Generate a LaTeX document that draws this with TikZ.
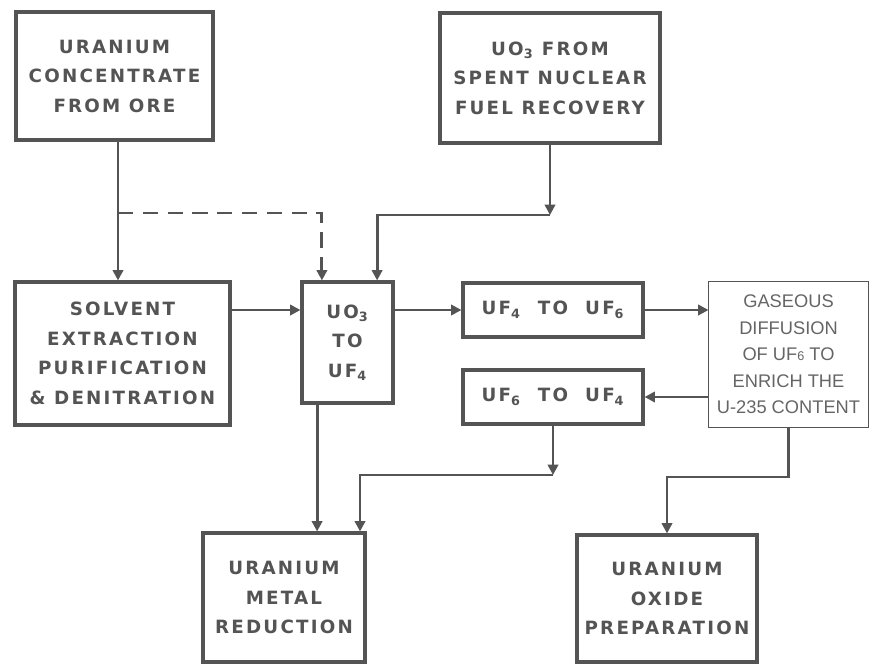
\documentclass[tikz,border=0pt]{standalone}
\usepackage{fontspec}
\newfontfamily\stencilfont[LetterSpace=12]{DejaVu Sans}
\newfontfamily\plainfont{Liberation Sans}
\usepackage{tikz}
\usetikzlibrary{arrows.meta}
\definecolor{ink}{gray}{0.33}

\begin{document}
\begin{tikzpicture}[x=0.025cm, y=-0.025cm,
  stage/.style={draw=ink, line width=2.2pt, rectangle, align=center, text=ink,
    font=\stencilfont\bfseries\fontsize{13}{21}\selectfont},
  plainstage/.style={draw=ink, line width=0.7pt, rectangle, align=center, text=ink!90,
    font=\plainfont\fontsize{13}{18.8}\selectfont},
  flow/.style={draw=ink, line width=2pt, -{Triangle[length=2.6mm,width=2.6mm]}}]
\useasboundingbox (0,0) rectangle (874,665);

% Feed boxes
\node[stage, minimum width=4.925cm, minimum height=3.2cm] (ore) at (114.5,76) {URANIUM\\CONCENTRATE\\FROM ORE};
\node[stage, minimum width=5.5cm, minimum height=3.25cm] (spent) at (550,78) {UO\textsubscript{3} FROM\\SPENT NUCLEAR\\FUEL RECOVERY};

% Middle row
\node[stage, minimum width=5.375cm, minimum height=3.575cm] (solvent) at (122.5,353.5) {SOLVENT\\EXTRACTION\\PURIFICATION\\\& DENITRATION};
\node[stage, minimum width=2.275cm, minimum height=3.025cm] (conv) at (347.5,342.5) {UO\textsubscript{3}\\TO\\UF\textsubscript{4}};
\node[stage, minimum width=4.5cm, minimum height=1.35cm] (uf4uf6) at (553,310) {UF\textsubscript{4}\ \ TO\ \ UF\textsubscript{6}};
\node[stage, minimum width=4.5cm, minimum height=1.35cm] (uf6uf4) at (553,397) {UF\textsubscript{6}\ \ TO\ \ UF\textsubscript{4}};
\node[plainstage, minimum width=3.975cm, minimum height=3.625cm] (diffusion) at (788.5,354.5) {GASEOUS\\DIFFUSION\\OF UF{\small 6} TO\\ENRICH THE\\U-235 CONTENT};

% Products
\node[stage, minimum width=4.05cm, minimum height=3.225cm] (metal) at (284,597.5) {URANIUM\\METAL\\REDUCTION};
\node[stage, minimum width=4.5cm, minimum height=3.175cm] (oxide) at (667,598.5) {URANIUM\\OXIDE\\PREPARATION};

% Junctions
\coordinate (j1) at (118,213);
\coordinate (j2) at (550,215);
\coordinate (j3) at (553,475);
\coordinate (j4) at (720,477);

% Arrows
\draw[flow] (ore.south -| j1) -- (j1 |- solvent.north);
\draw[flow, dash pattern=on 3.8mm off 2.4mm] (j1) -| ([xshift=-0.64cm]conv.north);
\draw[flow] (spent) -- (j2);
\draw[flow] (j2) -| ([xshift=0.74cm]conv.north);
\draw[flow] (solvent.east |- uf4uf6) -- (conv.west |- uf4uf6);
\draw[flow] (conv.east |- uf4uf6) -- (uf4uf6.west);
\draw[flow] (uf4uf6.east) -- (diffusion.west |- uf4uf6);
\draw[flow] (diffusion.west |- uf6uf4) -- (uf6uf4.east);
\draw[flow] ([xshift=-0.76cm]conv.south) -- ([xshift=-0.76cm]conv.south |- metal.north);
\draw[flow] (uf6uf4) -- (j3);
\draw[flow] (j3) -| ([xshift=1.9cm]metal.north);
\draw[flow] (diffusion.south) |- (j4) -| (oxide.north);

\end{tikzpicture}
\end{document}
